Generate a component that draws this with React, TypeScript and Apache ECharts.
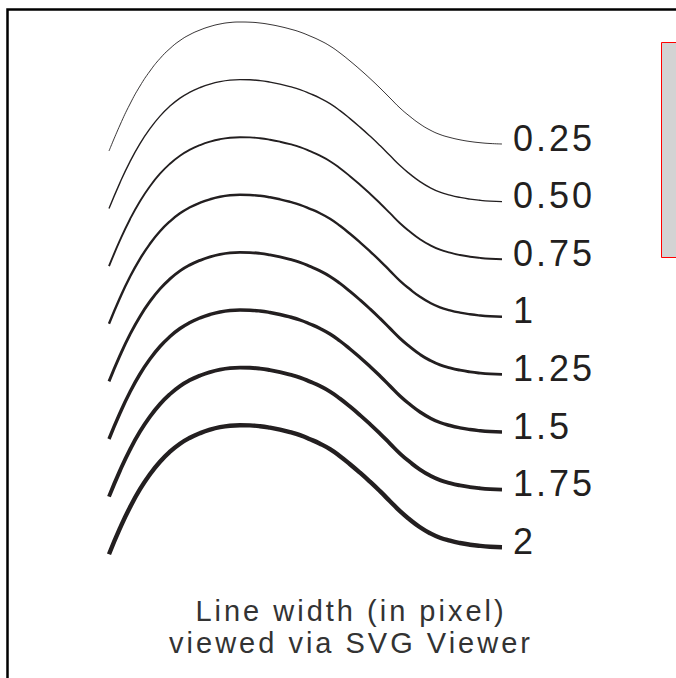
import React, { useEffect, useRef } from 'react';
import * as echarts from 'echarts';

// Labels and stroke widths of the eight sample curves
const widthLabels = ['0.25', '0.50', '0.75', '1', '1.25', '1.5', '1.75', '2'];
const lineWidths = [0.25, 0.5, 0.75, 1, 1.25, 1.5, 1.75, 2];
// Shared curve shape (progress along curve, height above its end)
const shapeX = [
  0, 11, 21, 31, 41, 51, 61, 71, 81, 91, 101, 111, 121, 131, 141, 151, 161, 171, 181, 191,
  201, 211, 221, 231, 241, 251, 261, 271, 281, 291, 301, 311, 321, 331, 341, 351, 361, 371, 381, 393,
];
const shapeH = [
  -7, 19, 40, 58, 73, 85.5, 95.5, 103.5, 109.5, 114, 117.5, 120, 121.5, 122, 121.8, 121, 119.5, 117.5, 115, 112,
  108, 103.5, 98, 91, 83, 74.5, 65.5, 56, 46, 36, 27.5, 20, 14, 9.5, 6.5, 4.2, 2.5, 1.3, 0.5, 0,
];
const rowStep = 57.6;
const caption = ['Line width (in pixel)', 'viewed via SVG Viewer'];

const INK = '#231f20';

export default function App() {
  const ref = useRef<HTMLDivElement>(null);
  useEffect(() => {
    if (!ref.current) return;
    const chart = echarts.init(ref.current, null, { renderer: 'svg' });
    const series = widthLabels.map((label, i) => ({
      type: 'line',
      name: label,
      smooth: 0.5,
      symbol: 'none',
      silent: true,
      data: shapeX.map((x, k) => [x, shapeH[k] - i * rowStep]),
      lineStyle: { color: INK, width: lineWidths[i] * 2 + 0.4, cap: 'butt' },
      endLabel: {
        show: true,
        formatter: label,
        fontSize: 36,
        fontFamily: 'Liberation Sans, Arial, sans-serif',
        color: INK,
        distance: 11,
        offset: [0, -6],
      },
    }));
    chart.setOption({
      animation: false,
      backgroundColor: '#ffffff',
      grid: { left: 109, right: 174, top: 14, bottom: 114 },
      xAxis: { type: 'value', min: 0, max: 393, show: false },
      yAxis: { type: 'value', min: -420, max: 130, show: false },
      series,
      graphic: [
        {
          type: 'rect',
          shape: { x: 7.5, y: 9.5, width: 720, height: 720 },
          style: { fill: 'none', stroke: '#000', lineWidth: 2.5 },
          silent: true,
        },
        {
          type: 'rect',
          shape: { x: 661.5, y: 42.5, width: 60, height: 215 },
          style: { fill: '#d3d3d3', stroke: '#ff0000', lineWidth: 1 },
          silent: true,
        },
        {
          type: 'text',
          x: 351,
          y: 595,
          style: {
            text: caption.join('\n'),
            fontSize: 29,
            lineHeight: 32,
            fontFamily: 'Liberation Sans, Arial, sans-serif',
            fill: '#333333',
            textAlign: 'center',
            textVerticalAlign: 'top',
          },
          silent: true,
        },
      ],
    });
    return () => chart.dispose();
  }, []);
  return (
    <div
      ref={ref}
      style={{ position: 'fixed', left: 0, top: 0, width: 676, height: 678, letterSpacing: '3px' }}
    />
  );
}
